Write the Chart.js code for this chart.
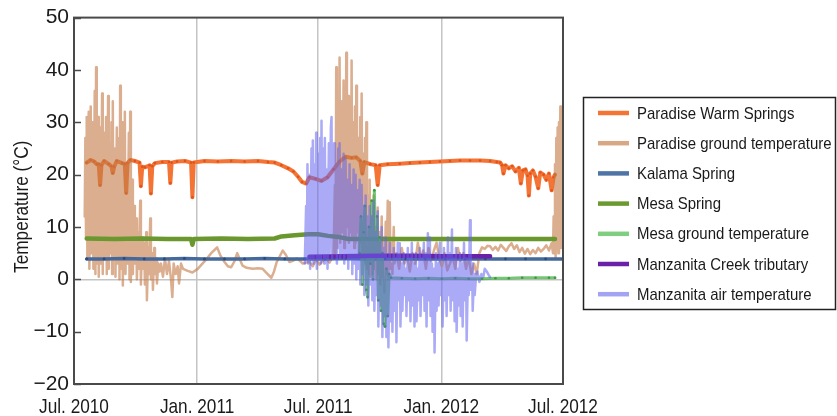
<!DOCTYPE html>
<html>
<head>
<meta charset="utf-8">
<script src="https://cdn.jsdelivr.net/npm/chart.js@4.4.1/dist/chart.umd.min.js"></script>
<style>
  html, body { margin: 0; padding: 0; background: #ffffff; }
  #wrap { width: 837px; height: 416px; }
</style>
</head>
<body>
<div id="wrap"><canvas id="chart" width="837" height="416"></canvas></div>
<script>
// Time axis: days since 1 July 2010
const tickDays = [0, 184, 365, 549, 731];
const tickLabels = ['Jul. 2010', 'Jan. 2011', 'Jul. 2011', 'Jan. 2012', 'Jul. 2012'];
const yTicks = { min: -20, max: 50, step: 10 };
const yTitle = 'Temperature (°C)';

const seriesNames = [
  'Paradise Warm Springs',
  'Paradise ground temperature',
  'Kalama Spring',
  'Mesa Spring',
  'Mesa ground temperature',
  'Manzanita Creek tributary',
  'Manzanita air temperature'
];

// [day, °C]
const paradiseWarm = [
  [19,22.3],[25,22.8],[30,22.5],[34,22.0],[37,22.0],[39,18.0],[41,21.8],[45,22.6],[52,22.0],
  [56,21.6],[58,20.3],[60,21.5],[64,22.6],[72,22.2],[76,22.0],[78,16.5],[80,22.2],[84,22.8],
  [91,22.6],[98,22.3],[100,17.8],[102,21.5],[106,21.4],[113,21.8],[115,16.4],[117,21.6],
  [121,22.2],[132,22.4],[142,22.4],[144,18.4],[146,22.3],[154,22.5],[166,22.6],[175,22.3],
  [177,15.7],[179,22.3],[195,22.6],[215,22.5],[235,22.6],[255,22.5],[275,22.6],[290,22.4],
  [300,22.3],[310,21.8],[320,21.2],[328,20.6],[335,19.6],[341,18.6],[347,18.3],[352,19.5],
  [361,19.2],[370,18.8],[379,19.5],[388,21.0],[397,22.5],[406,23.4],[415,23.2],[422,23.3],
  [428,22.6],[431,20.2],[434,22.4],[443,22.0],[451,21.8],[454,18.0],[457,21.8],[469,22.0],
  [487,22.1],[502,22.2],[517,22.3],[532,22.4],[547,22.5],[562,22.6],[577,22.7],[592,22.7],
  [607,22.7],[622,22.6],[632,22.4],[637,22.3],[640,21.8],[642,20.2],[645,21.8],[650,21.2],
  [655,21.6],[660,20.6],[665,21.3],[668,18.3],[671,20.8],[675,21.0],[678,19.8],[680,16.0],
  [682,20.2],[686,20.8],[690,19.6],[694,17.4],[697,20.4],[702,20.0],[706,19.0],[710,20.2],
  [714,17.0],[717,19.5],[719,20.0]
];

const paradiseGround = [
  [16,12],[17,27],[18,8],[19,31],[20,4],[22,32],[23,2],[25,33],[26,5],[28,30],[29,2],[31,36],
  [32,1],[33,40.5],[34,3],[36,31],[37,0.5],[39,29],[40,3],[42,35.5],[43,1],[45,28],[46,4],
  [48,31],[49,1],[51,35],[52,2],[54,26],[55,5],[56,30],[57,1],[58,34],[59,4],[61,25],[62,0.5],
  [64,29],[65,3],[67,27],[68,0],[69,37],[70,2],[72,30],[73,-1.2],[75,26],[76,32],[77,1],
  [79,22],[80,3],[82,28],[83,0],[84,32],[85,-0.5],[87,19],[88,1],[90,14],[91,3],[93,11.6],
  [94,0],[96,9],[97,2],[99,15],[100,-1],[102,8],[103,2],[105,7],[106,-1],[108,9],[109,-4],
  [111,6],[112,1],[114,11.6],[115,0],[117,5],[118,-2],[120,6],[121,1],[123,4],[124,-0.8],
  [126,3],[128,1.5],[130,3],[133,0.5],[136,4],[139,1],[142,3.5],[145,0],[147,-3.4],[149,3],
  [152,1],[155,2.5],[157,-0.8],[160,3],[163,2],[170,1.6],[177,1.3],[185,2],[192,3],[199,4],
  [205,5],[210,5.6],[214,6.1],[219,4.5],[225,3.3],[230,2.5],[235,2.3],[240,3.5],[244,5],
  [248,3.8],[252,2.6],[258,2.2],[267,2],[275,2.1],[282,2],[288,1.2],[295,0.3],[299,1.5],
  [303,3.3],[308,4.5],[312,5.5],[317,4.6],[322,3.3],[328,3.6],[333,4],[338,3.5],[342,3],
  [347,3.2],[352,3.3],[357,2.5],[362,3.8],[367,2.8],[372,3.5],[377,4],[382,3.2],[386,4.2],
  [388,4],[390,18],[391,5],[392,40.5],[393,6],[395,30],[396,8],[397,42.4],[398,7],[400,34],
  [401,9],[403,38],[404,6],[405,30],[406,8],[407,43.3],[408,10],[410,35],[411,7],[413,32],
  [414,9],[415,41.8],[416,8],[418,30],[419,6],[420,33],[421,7],[422,37],[423,9],[425,27],
  [426,5],[428,31],[429,7],[430,35.5],[431,5],[433,24],[434,4],[435,27],[436,3],[437,30],
  [438,2],[440,16],[441,1],[442,19],[443,0.5],[445,12],[446,1],[448,16],[449,2],[451,10],
  [452,0],[454,13.7],[455,1],[457,9],[458,-1],[460,12],[461,0.5],[463,8],[464,-2.5],[466,11],
  [467,1],[469,15],[470,0],[472,14.7],[473,2],[475,7],[476,1],[478,10],[479,3],[482,5],[486,2],
  [490,6],[494,3],[498,4.5],[502,1.5],[506,5],[510,3],[514,7],[518,4],[522,5.5],[526,2],
  [530,6],[534,3.5],[538,5.5],[542,7],[546,4],[550,2.5],[554,5],[558,1.7],[562,3],[566,4.5],
  [570,2],[574,6],[578,3.5],[582,5],[586,2],[590,4.2],[594,1],[598,3],[602,1],[606,5],
  [610,6.1],[614,5.8],[618,6.4],[622,6.3],[626,5.6],[630,6.2],[634,5.5],[638,6.6],[642,6.0],
  [646,5.4],[650,6.3],[654,6.9],[658,5.8],[662,6.5],[666,5.2],[670,6.0],[674,4.9],[678,5.8],
  [682,4.8],[686,5.6],[690,5.0],[694,6.0],[698,5.3],[702,5.8],[706,6.5],[710,5.5],[714,6.9],
  [716,5],[717,12],[718,5],[719,22],[720,4],[721,27],[722,6],[723,29],[724,5],[725,30],
  [726,8],[727,33],[728,6],[729,32],[730,10],[731,31]
];

const kalamaSpring = [
  [19,3.9],[45,3.9],[75,4.0],[105,3.9],[135,3.9],[165,4.0],[195,3.9],[225,3.9],[255,3.9],
  [285,4.0],[315,3.9],[345,3.9],[375,3.9],[405,4.0],[435,3.9],[465,3.9],[495,3.9],[525,3.9],
  [555,3.9],[585,3.9],[615,3.9],[645,3.9],[675,3.9],[705,3.9],[731,3.9]
];

const mesaSpring = [
  [19,7.8],[60,7.7],[100,7.8],[140,7.7],[175,7.7],[177,6.6],[179,7.7],[220,7.8],[260,7.7],
  [300,7.8],[310,8.2],[330,8.4],[350,8.6],[365,8.6],[380,8.3],[395,8.1],[410,7.7],[460,7.7],
  [520,7.7],[580,7.7],[640,7.7],[719,7.7]
];

const mesaGround = [
  [427,5],[429,12],[431,-1],[433,9],[435,14],[437,-2],[439,-3.4],[441,10],[443,3],[445,15],
  [447,0],[449,17],[451,4],[453,12],[455,-4],[457,8],[459,-6],[461,5],[463,-8.5],[465,-9],
  [467,2],[469,-7],[471,1],[474,0.3],[490,0.2],[510,0.1],[530,0.2],[550,0.1],[570,0.2],
  [590,0.1],[610,0.1],[630,0.2],[650,0.2],[670,0.3],[690,0.3],[710,0.3],[719,0.3]
];

const manzanitaCreek = [
  [352,4.3],[400,4.4],[450,4.5],[500,4.5],[550,4.4],[600,4.4],[622,4.4]
];

const manzanitaAir = [
  [345,3],[347,14],[348,4],[349,22],[350,3],[352,20],[353,2],[355,25],[356,4],[357,26.5],
  [358,3],[360,22],[361,5],[362,28],[363,2],[365,24],[366,4],[368,27],[369,3],[370,30.3],
  [371,5],[373,25],[374,3],[375,27],[376,6],[378,21],[379,2],[381,26],[382,5],[384,29],
  [385,31],[386,4],[388,24],[389,26],[390,5],[392,22],[393,3],[395,25],[396,6],[397,26],
  [398,4],[400,21],[401,5],[403,24],[404,3],[406,23],[407,5],[409,19],[410,2],[412,22],
  [413,4],[415,18],[416,1],[418,21],[419,3],[421,20],[422,0],[424,17],[425,2],[427,19],
  [428,-1],[430,18],[431,1],[433,14],[434,-3],[436,16],[437,-1],[439,12],[440,-5],[442,14],
  [443,-1],[445,12],[446,-4],[448,15],[449,-6],[451,9],[452,-3],[454,13],[455,-9],[457,7],
  [458,-5],[460,10],[461,-11],[463,6],[464,-7],[466,8],[467,-11],[469,4],[470,-13],[472,7],
  [473,-8],[475,3],[476,-10],[478,6],[479,-6],[481,4],[482,-12],[484,7],[485,-4],[487,6.9],
  [488,-9],[490,3],[491,-6],[493,5],[494,-3],[496,2],[497,-7],[499,6],[500,-4],[502,4],
  [503,-8],[505,7],[506,-5],[508,3],[509,-9],[511,5],[512,-8],[514,2],[515,-4],[517,6],
  [518,-7],[520,4],[521,-3],[523,7],[524,-6],[526,5],[527,-9],[529,8.8],[530,-4],[532,8],
  [533,-7],[535,3],[536,-10],[538,2],[539,-14],[541,5],[542,-6],[544,3],[545,-5],[547,7],
  [548,-3],[550,2],[551,-9],[553,6],[554,-4],[556,4],[557,-7],[559,8],[560,-3],[562,5],
  [563,-6],[565,9.5],[566,-4],[568,4],[569,-8],[571,6],[572,-10],[574,2],[575,-5],[577,5],
  [578,-7],[580,3],[581,-9],[583,7],[584,-4],[586,4],[587,-11.7],[589,2],[590,-3],[592,11.3],
  [593,-2],[595,3],[596,-6],[598,1],[599,-3],[601,0.5],[603,1.5],[606,-0.5],[609,1],[612,0.5],
  [614,2],[617,1.5],[620,0.8],[622,0.4]
];

const FONT = "'Liberation Sans', Arial, sans-serif";
const TEXT_COLOR = '#1a1a1a';
Chart.defaults.font.family = FONT;
Chart.defaults.color = TEXT_COLOR;

const toPoints = arr => arr.map(([x, y]) => ({ x, y }));

function lineSet(label, data, color, width, opts) {
  return Object.assign({
    label,
    data: toPoints(data),
    borderColor: color,
    backgroundColor: color,
    borderWidth: width,
    pointRadius: 0,
    tension: 0,
    fill: false,
    borderJoinStyle: 'round',
    borderCapStyle: 'round'
  }, opts || {});
}

const datasets = [
  lineSet(seriesNames[0], paradiseWarm, '#f47435', 4,
    { order: 7, legendColor: '#f47435', pointRadius: 1.3, pointBackgroundColor: '#e0531d', pointBorderWidth: 0 }),
  lineSet(seriesNames[1], paradiseGround, 'rgba(196,124,72,0.62)', 2.5,
    { order: 6, legendColor: '#d8a784' }),
  lineSet(seriesNames[2], kalamaSpring, '#46699c', 3.5,
    { order: 5, legendColor: '#4f74a6', pointRadius: 1.4, pointBackgroundColor: '#2b4a78', pointBorderWidth: 0 }),
  lineSet(seriesNames[3], mesaSpring, '#6a982e', 4.5,
    { order: 4, legendColor: '#6b9a30' }),
  lineSet(seriesNames[4], mesaGround, 'rgba(72,178,72,0.75)', 3,
    { order: 3, legendColor: '#80cf80', pointRadius: 1.3, pointBackgroundColor: '#3c9a3c', pointBorderWidth: 0 }),
  lineSet(seriesNames[5], manzanitaCreek, '#6a20a8', 4.5,
    { order: 2, legendColor: '#6a20a8' }),
  lineSet(seriesNames[6], manzanitaAir, 'rgba(100,100,238,0.55)', 2.5,
    { order: 1, legendColor: '#a3a3f3' })
];

// Text set in a condensed width by squeezing it horizontally
function narrowText(ctx, text, x, y, squeeze, align, baseline, angle) {
  ctx.save();
  ctx.translate(x, y);
  if (angle) ctx.rotate(angle);
  ctx.scale(squeeze, 1);
  ctx.textAlign = align;
  ctx.textBaseline = baseline;
  ctx.fillText(text, 0, 0);
  ctx.restore();
}

// Plot frame, inward y tick marks, x tick labels and y title
const framePlugin = {
  id: 'frame',
  afterDatasetsDraw(chart) {
    const { ctx, chartArea: a } = chart;
    const y = chart.scales.y;
    const x = chart.scales.x;
    ctx.save();
    ctx.strokeStyle = '#4a4a4a';
    ctx.lineWidth = 2;
    ctx.strokeRect(a.left, a.top, a.right - a.left, a.bottom - a.top);
    ctx.lineWidth = 1.5;
    y.ticks.forEach(t => {
      const py = Math.round(y.getPixelForValue(t.value)) + 0.5;
      ctx.beginPath();
      ctx.moveTo(a.left, py);
      ctx.lineTo(a.left + 7, py);
      ctx.stroke();
    });
    ctx.fillStyle = TEXT_COLOR;
    ctx.font = '21px ' + FONT;
    tickDays.forEach((d, i) => {
      narrowText(ctx, tickLabels[i], x.getPixelForValue(d), a.bottom + 29, 0.82, 'center', 'alphabetic');
    });
    narrowText(ctx, yTitle, 22, (a.top + a.bottom) / 2 + 6, 0.82, 'center', 'middle', -Math.PI / 2);
    ctx.restore();
  }
};

// Boxed legend to the right of the plot
const legendBox = {
  id: 'legendBox',
  afterDraw(chart) {
    const { ctx } = chart;
    const box = { x: 583.5, y: 97.5, w: 252, h: 212 };
    ctx.save();
    ctx.fillStyle = '#ffffff';
    ctx.fillRect(box.x, box.y, box.w, box.h);
    ctx.strokeStyle = '#222222';
    ctx.lineWidth = 1.5;
    ctx.strokeRect(box.x, box.y, box.w, box.h);
    ctx.font = '17px ' + FONT;
    ctx.fillStyle = TEXT_COLOR;
    chart.data.datasets.forEach((ds, i) => {
      const cy = 113 + i * 30.2;
      ctx.strokeStyle = ds.legendColor;
      ctx.lineWidth = 4.5;
      ctx.lineCap = 'butt';
      ctx.beginPath();
      ctx.moveTo(598, cy);
      ctx.lineTo(629, cy);
      ctx.stroke();
      narrowText(ctx, ds.label, 637, cy + 1, 0.88, 'left', 'middle');
    });
    ctx.restore();
  }
};

new Chart(document.getElementById('chart'), {
  type: 'line',
  data: { datasets },
  options: {
    responsive: false,
    animation: false,
    devicePixelRatio: 1,
    layout: { padding: { top: 17, right: 274, left: 0, bottom: 0 } },
    plugins: {
      legend: { display: false },
      tooltip: { enabled: false }
    },
    scales: {
      x: {
        type: 'linear',
        min: tickDays[0],
        max: tickDays[tickDays.length - 1],
        afterBuildTicks: scale => { scale.ticks = tickDays.map(v => ({ value: v })); },
        afterFit: scale => { scale.height = 32; },
        ticks: { display: false, autoSkip: false },
        grid: {
          drawTicks: false,
          lineWidth: 1.5,
          color: ctx => {
            const v = ctx.tick && ctx.tick.value;
            return (v > tickDays[0] && v < tickDays[tickDays.length - 1]) ? '#c4c4c4' : 'rgba(0,0,0,0)';
          }
        },
        border: { display: false }
      },
      y: {
        min: yTicks.min,
        max: yTicks.max,
        afterFit: scale => { scale.width = 74; },
        ticks: {
          stepSize: yTicks.step,
          padding: 5,
          font: { size: 21 },
          color: TEXT_COLOR,
          callback: v => String(v).replace('-', '\u2212')
        },
        grid: {
          drawTicks: false,
          lineWidth: 1.5,
          color: ctx => (ctx.tick && ctx.tick.value === 0) ? '#c4c4c4' : 'rgba(0,0,0,0)'
        },
        border: { display: false }
      }
    }
  },
  plugins: [framePlugin, legendBox]
});
</script>
</body>
</html>
